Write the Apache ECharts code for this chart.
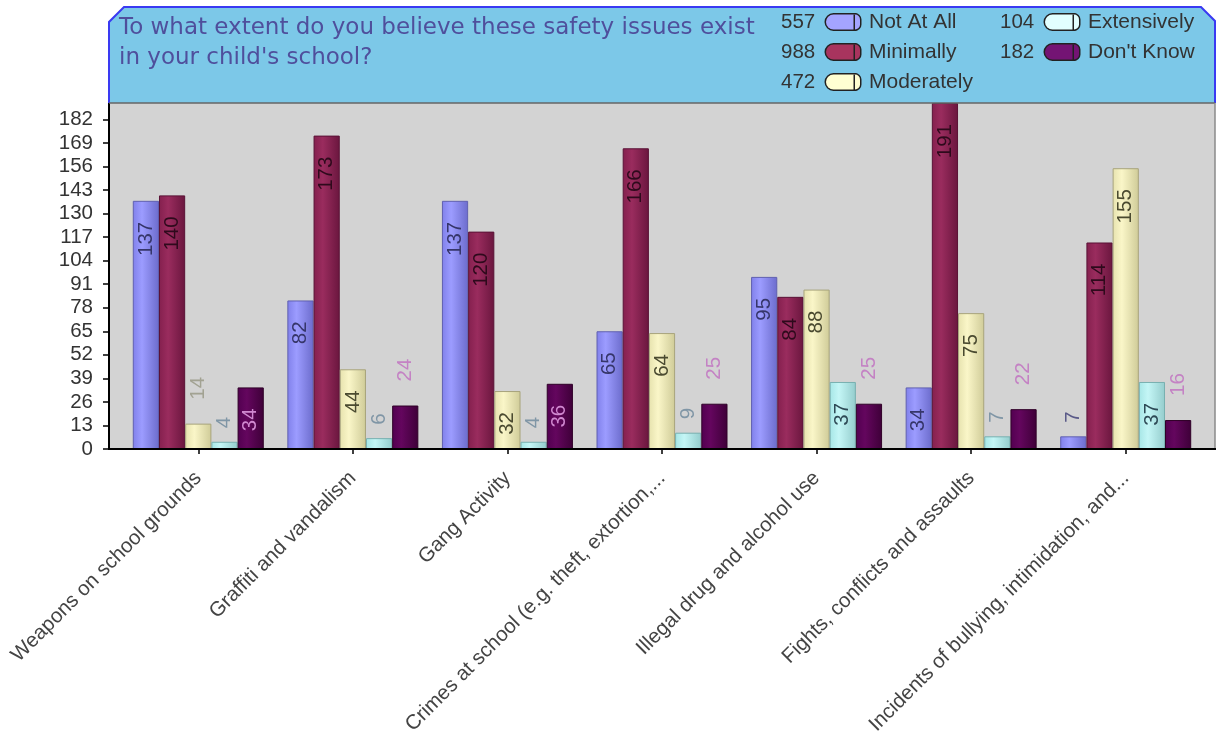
<!DOCTYPE html>
<html><head><meta charset="utf-8">
<script src="https://cdn.jsdelivr.net/npm/echarts@6/dist/echarts.min.js"></script>
<style>html,body{margin:0;padding:0;background:#fff}#c{width:1220px;height:738px}</style>
</head><body><div id="c"></div>
<script>
// ---- data ----
const categories = [
  'Weapons on school grounds',
  'Graffiti and vandalism',
  'Gang Activity',
  'Crimes at school (e.g. theft, extortion,...',
  'Illegal drug and alcohol use',
  'Fights, conflicts and assaults',
  'Incidents of bullying, intimidation, and...'
];
const seriesNames = ['Not At All', 'Minimally', 'Moderately', 'Extensively', "Don't Know"];
const notAtAll    = [137, 82, 137, 65, 95, 34, 7];
const minimally   = [140, 173, 120, 166, 84, 191, 114];
const moderately  = [14, 44, 32, 64, 88, 75, 155];
const extensively = [4, 6, 4, 9, 37, 7, 37];
const dontKnow    = [34, 24, 36, 25, 25, 22, 16];
const yMin = 0, yMax = 191, yStep = 13;
const titleText = "To what extent do you believe these safety issues exist\nin your child's school?";

// ---- styles ----
const allValues = [notAtAll, minimally, moderately, extensively, dontKnow];
const FONT = 'Liberation Sans, Arial, sans-serif';
const barStops = [
  ['#8080ea', '#9c9cff', '#6c6ccc'],
  ['#84204e', '#9a2c5e', '#6a163e'],
  ['#e6e2ae', '#faf6c8', '#cfcb98'],
  ['#a6e6e6', '#c4f6f6', '#94cccc'],
  ['#520050', '#64065e', '#3e0038']
];
const borderCols = ['#6060b0', '#5a1236', '#a8a47c', '#78b0b0', '#300028'];
const legendCols = ['#a4a4ff', '#a8345e', '#ffffd2', '#e2ffff', '#741474'];
const insideCols = ['#36366a', '#2e0a1c', '#4a4a30', '#2e4a56', '#d088d0'];
const outsideCols = ['#5a5a88', '#7a4a60', '#a2a292', '#8096a6', '#c482c4'];
const INSIDE_MIN = 30;

const series = allValues.map((vals, i) => ({
  name: seriesNames[i],
  type: 'bar',
  barWidth: 26.2,
  barGap: '0%',
  itemStyle: {
    color: new echarts.graphic.LinearGradient(0, 0, 1, 0, [
      {offset: 0, color: barStops[i][0]},
      {offset: 0.35, color: barStops[i][1]},
      {offset: 1, color: barStops[i][2]}
    ]),
    borderColor: borderCols[i],
    borderWidth: 1
  },
  data: vals.map(v => ({
    value: v,
    label: v >= INSIDE_MIN ? {
      show: true, position: 'insideTop', rotate: 90, align: 'right', verticalAlign: 'middle',
      distance: 21, color: insideCols[i], fontSize: 20.5, fontFamily: FONT
    } : {
      show: true, position: 'top', rotate: 90, align: 'left', verticalAlign: 'middle',
      distance: 3 + 10.5 * String(v).length, color: outsideCols[i], fontSize: 20.5, fontFamily: FONT
    }
  }))
}));

function legendFor(idx, left) {
  const rich = {
    n: {fontSize: 20.5, fontFamily: FONT, color: '#333', width: 45, align: 'left'},
    t: {fontSize: 21, fontFamily: FONT, color: '#333', padding: [0, 0, 0, 9]}
  };
  idx.forEach(i => {
    rich['a' + i] = {width: 29, height: 15, backgroundColor: legendCols[i], borderColor: '#222', borderWidth: 1.5, borderRadius: [8, 0, 0, 8]};
    rich['c' + i] = {width: 5, height: 15, backgroundColor: legendCols[i], borderColor: '#222', borderWidth: 1.5, borderRadius: [0, 8, 8, 0]};
  });
  return {
    orient: 'vertical', left: left, top: 10, padding: 0, itemGap: 6,
    itemWidth: 0, itemHeight: 0,
    data: idx.map(i => seriesNames[i]),
    formatter: name => {
      const i = seriesNames.indexOf(name);
      const total = allValues[i].reduce((a, b) => a + b, 0);
      return '{n|' + total + '}{a' + i + '|}{c' + i + '|}{t|' + name + '}';
    },
    textStyle: {fontSize: 20, fontFamily: FONT, color: '#333', lineHeight: 24, rich: rich}
  };
}

const chart = echarts.init(document.getElementById('c'), null, {renderer: 'canvas'});
chart.setOption({
  animation: false,
  backgroundColor: '#ffffff',
  title: {
    text: titleText, left: 119, top: 13, padding: 0,
    textStyle: {fontSize: 23, fontFamily: 'DejaVu Sans, sans-serif', fontWeight: 'normal', color: '#4f4f9c', lineHeight: 30}
  },
  legend: [legendFor([0, 1, 2], 775), legendFor([3, 4], 994)],
  grid: {left: 121, right: 17, top: 103, bottom: 289, containLabel: false},
  xAxis: {
    type: 'category', data: categories,
    axisLine: {show: true, lineStyle: {color: '#000', width: 2}},
    axisTick: {show: true, alignWithLabel: true, length: 5, lineStyle: {color: '#000', width: 1.5}},
    axisLabel: {interval: 0, rotate: 45, fontSize: 20.5, fontFamily: FONT, color: '#444', margin: 26}
  },
  yAxis: {
    type: 'value', min: yMin, max: yMax, interval: yStep, offset: 12,
    axisLine: {show: true, lineStyle: {color: '#000', width: 2}},
    axisTick: {show: true, length: 6, lineStyle: {color: '#000', width: 1.5}},
    splitLine: {show: false},
    axisLabel: {fontSize: 20.5, fontFamily: FONT, color: '#333', margin: 16, showMaxLabel: false}
  },
  graphic: [
    {type: 'rect', z: -10, silent: true, shape: {x: 109, y: 103, width: 1106, height: 346}, style: {fill: '#d3d3d3'}},
    {type: 'polygon', z: -10, silent: true, shape: {points: [[109, 22], [124, 7], [1201, 7], [1215, 21], [1215, 103], [109, 103]]}, style: {fill: '#7cc8e8'}},
    {type: 'polyline', z: 5, silent: true, shape: {points: [[109, 103], [109, 22], [124, 7], [1201, 7], [1215, 21], [1215, 103]]}, style: {stroke: '#3a3af2', lineWidth: 2, fill: null}},
    {type: 'line', z: 5, silent: true, shape: {x1: 109, y1: 103, x2: 1215, y2: 103}, style: {stroke: '#666', lineWidth: 1.5}},
    {type: 'line', z: 5, silent: true, shape: {x1: 1215, y1: 103, x2: 1215, y2: 449}, style: {stroke: '#8a8a8a', lineWidth: 1.5}},
    {type: 'line', z: 5, silent: true, shape: {x1: 108, y1: 449, x2: 1216, y2: 449}, style: {stroke: '#000', lineWidth: 2}}
  ],
  series: series
});
</script></body></html>
